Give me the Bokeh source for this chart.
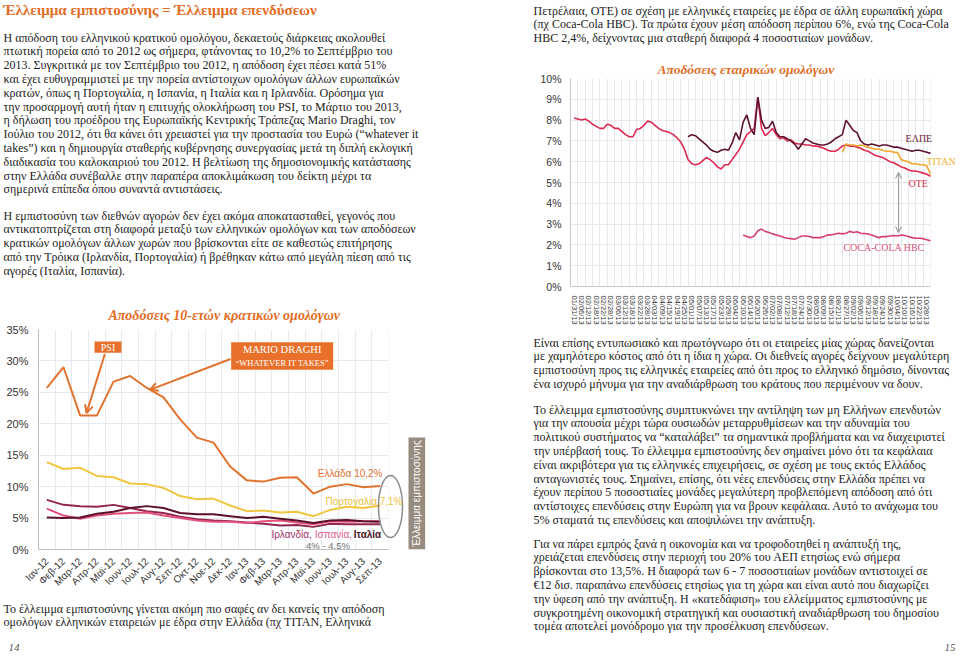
import math
from bokeh.plotting import figure
from bokeh.models import Range1d, FixedTicker, BoxAnnotation, Arrow, OpenHead
from bokeh.layouts import row, column
from bokeh.core.properties import value
from bokeh.embed import file_html
from bokeh.resources import INLINE

SERIF = "Liberation Serif"
SANS = "Liberation Sans"
ORANGE = "#E36C1F"
BODY = "#222222"
BODY_SIZE = "12px"
LINE = 13.8

# ---------------- chart 1 data : 10-year government bond yields (%) ----------------
months = ["Ιαν-12", "Φεβ-12", "Μαρ-12", "Απρ-12", "Μαϊ-12", "Ιουν-12", "Ιουλ-12",
          "Αυγ-12", "Σεπ-12", "Οκτ-12", "Νοε-12", "Δεκ-12", "Ιαν-13", "Φεβ-13",
          "Μαρ-13", "Απρ-13", "Μαϊ-13", "Ιουν-13", "Ιουλ-13", "Αυγ-13", "Σεπ-13"]
greece = [25.7, 29.0, 21.3, 21.3, 26.7, 27.6, 25.7, 24.2, 20.7, 17.8, 17.0, 13.2,
          11.0, 10.8, 11.4, 11.5, 8.9, 10.0, 10.4, 9.9, 10.1]
portugal = [13.9, 12.8, 13.0, 11.7, 11.5, 10.5, 10.4, 9.8, 8.5, 8.0, 8.1, 7.0,
            6.1, 6.2, 5.9, 6.0, 5.3, 6.3, 6.8, 6.6, 7.0]
ireland = [7.9, 7.1, 6.9, 6.8, 7.1, 6.6, 6.1, 5.8, 5.2, 4.8, 4.6, 4.5,
           4.3, 4.1, 3.8, 3.9, 3.6, 4.1, 4.0, 4.0, 4.0]
italy = [6.5, 5.4, 4.9, 5.4, 5.7, 5.8, 5.9, 5.4, 5.0, 4.6, 4.4, 4.4,
         4.2, 4.5, 4.6, 4.3, 4.0, 4.5, 4.4, 4.5, 4.5]
spain = [5.1, 5.0, 5.1, 5.7, 6.0, 6.6, 6.9, 6.6, 5.8, 5.6, 5.6, 5.3,
         5.0, 5.2, 4.9, 4.6, 4.2, 4.6, 4.7, 4.5, 4.4]
y1_ticks = [0, 5, 10, 15, 20, 25, 30, 35]

# ---------------- chart 2 data : corporate bond yields (%) ----------------
date_labels = ["01/31/13", "02/06/13", "02/12/13", "02/18/13", "02/22/13", "02/28/13",
               "03/06/13", "03/12/13", "03/18/13", "03/22/13", "03/28/13", "04/03/13",
               "04/09/13", "04/15/13", "04/19/13", "04/25/13", "05/01/13", "05/07/13",
               "05/13/13", "05/17/13", "05/23/13", "05/29/13", "06/04/13", "06/10/13",
               "06/14/13", "06/20/13", "06/26/13", "07/02/13", "07/08/13", "07/12/13",
               "07/18/13", "07/24/13", "07/30/13", "08/05/13", "08/09/13", "08/15/13",
               "08/21/13", "08/27/13", "09/02/13", "09/06/13", "09/12/13", "09/18/13",
               "09/24/13", "09/30/13", "10/04/13", "10/10/13", "10/16/13", "10/22/13",
               "10/28/13"]
DAYS_PER_LABEL = 4   # trading days between consecutive date labels
SAMPLE_STEP = 2      # values read every 2 trading days
ote = [8.10, 8.05, 8.00, 8.05, 7.95, 7.80, 7.70, 7.60, 7.60, 7.80,
       7.75, 7.60, 7.60, 7.45, 7.30, 7.20, 7.20, 7.55, 7.60, 7.75,
       7.95, 7.90, 7.75, 7.60, 7.50, 7.45, 7.40, 7.30, 7.15, 6.95,
       6.60, 6.10, 5.90, 5.85, 5.90, 6.05, 6.20, 6.10, 5.95, 5.75,
       5.65, 5.85, 5.85, 6.10, 6.35, 6.60, 6.95, 7.30, 7.45, 7.60,
       9.10, 7.60, 7.25, 7.40, 7.60, 7.30, 7.10, 7.15, 7.00, 7.05,
       6.90, 6.85, 6.85, 6.80, 6.80, 6.75, 6.75, 6.70, 6.65, 6.55,
       6.50, 6.50, 6.60, 6.75, 6.80, 6.75, 6.75, 6.70, 6.65, 6.55,
       6.50, 6.40, 6.30, 6.25, 6.20, 6.10, 6.00, 5.95, 5.85, 5.75,
       5.70, 5.60, 5.55, 5.55, 5.50, 5.45, 5.40, 5.30]
ote_first_day = 0
elpe = [7.20, 7.30, 7.25, 7.10, 6.95, 6.80, 6.60, 6.50, 6.45, 6.55,
        6.60, 6.55, 6.90, 7.40, 7.05, 7.90, 8.25, 7.60, 7.30, 9.10,
        8.00, 7.60, 7.65, 7.95, 7.40, 7.20, 7.20, 7.10, 7.00, 6.85,
        6.60, 6.85, 7.10, 7.00, 6.90, 6.85, 6.80, 6.80, 6.85, 6.95,
        7.10, 7.20, 7.30, 8.00, 7.75, 7.50, 7.40, 7.00, 6.85, 6.80,
        6.85, 6.80, 6.75, 6.80, 6.80, 6.75, 6.70, 6.70, 6.65, 6.60,
        6.55, 6.50, 6.55, 6.55, 6.50, 6.45, 6.40]
elpe_first_day = 62
titan = [6.45, 6.85, 6.80, 6.80, 6.75, 6.80, 6.75, 6.70, 6.65, 6.60,
         6.60, 6.55, 6.50, 6.50, 6.45, 6.45, 6.10, 6.05, 6.00, 5.90,
         5.90, 5.85, 5.85, 5.80, 5.40]
titan_first_day = 146
cchbc = [2.48, 2.40, 2.35, 2.43, 2.68, 2.76, 2.65, 2.60, 2.53, 2.48,
         2.43, 2.37, 2.32, 2.30, 2.27, 2.35, 2.43, 2.43, 2.40, 2.35,
         2.35, 2.35, 2.40, 2.48, 2.48, 2.52, 2.56, 2.53, 2.56, 2.65,
         2.60, 2.63, 2.56, 2.55, 2.52, 2.48, 2.40, 2.35, 2.40, 2.40,
         2.43, 2.45, 2.43, 2.48, 2.45, 2.40, 2.35, 2.32, 2.32, 2.30,
         2.25, 2.20]
cchbc_first_day = 92
y2_ticks = list(range(0, 11))

# ---------------- page texts ----------------
left_title = "Έλλειμμα εμπιστοσύνης = Έλλειμμα επενδύσεων"
left_p1 = [
    "Η απόδοση του ελληνικού κρατικού ομολόγου, δεκαετούς διάρκειας ακολουθεί",
    "πτωτική πορεία από το 2012 ως σήμερα, φτάνοντας το 10,2% το Σεπτέμβριο του",
    "2013. Συγκριτικά με τον Σεπτέμβριο του 2012, η απόδοση έχει πέσει κατά 51%",
    "και έχει ευθυγραμμιστεί με την πορεία αντίστοιχων ομολόγων άλλων ευρωπαϊκών",
    "κρατών, όπως η Πορτογαλία, η Ισπανία, η Ιταλία και η Ιρλανδία.  Ορόσημα για",
    "την προσαρμογή αυτή ήταν η επιτυχής ολοκλήρωση του PSI, το Μάρτιο του 2013,",
    "η δήλωση του προέδρου της Ευρωπαϊκής Κεντρικής Τράπεζας Mario Draghi, τον",
    "Ιούλιο του 2012, ότι θα κάνει ότι χρειαστεί για την προστασία του Ευρώ (“whatever it",
    "takes”) και η δημιουργία σταθερής κυβέρνησης συνεργασίας μετά τη διπλή εκλογική",
    "διαδικασία του καλοκαιριού του 2012. Η βελτίωση της δημοσιονομικής κατάστασης",
    "στην Ελλάδα συνέβαλλε στην παραπέρα αποκλιμάκωση του δείκτη μέχρι τα",
    "σημερινά επίπεδα όπου συναντά αντιστάσεις.",
]
left_p2 = [
    "Η εμπιστοσύνη των διεθνών αγορών δεν έχει ακόμα αποκατασταθεί, γεγονός που",
    "αντικατοπτρίζεται στη διαφορά μεταξύ των ελληνικών ομολόγων και των αποδόσεων",
    "κρατικών ομολόγων άλλων χωρών που βρίσκονται είτε σε καθεστώς επιτήρησης",
    "από την Τρόικα (Ιρλανδία, Πορτογαλία) ή βρέθηκαν κάτω από μεγάλη πίεση από τις",
    "αγορές (Ιταλία, Ισπανία).",
]
left_p3 = [
    "Το έλλειμμα εμπιστοσύνης γίνεται ακόμη πιο σαφές αν δει κανείς την απόδοση",
    "ομολόγων ελληνικών εταιρειών με έδρα στην Ελλάδα (πχ TITAN, Ελληνικά",
]
right_p0 = [
    "Πετρέλαια, ΟΤΕ) σε σχέση με ελληνικές εταιρείες με έδρα σε άλλη ευρωπαϊκή χώρα",
    "(πχ Coca-Cola HBC). Τα πρώτα έχουν μέση απόδοση περίπου 6%, ενώ της Coca-Cola",
    "HBC 2,4%, δείχνοντας μια σταθερή διαφορά 4 ποσοστιαίων μονάδων.",
]
right_p1 = [
    "Είναι επίσης εντυπωσιακό και πρωτόγνωρο ότι οι εταιρείες μίας χώρας δανείζονται",
    "με χαμηλότερο κόστος από ότι η ίδια η χώρα. Οι διεθνείς αγορές δείχνουν μεγαλύτερη",
    "εμπιστοσύνη προς τις ελληνικές εταιρείες από ότι προς το ελληνικό δημόσιο, δίνοντας",
    "ένα ισχυρό μήνυμα για την αναδιάρθρωση του κράτους που περιμένουν να δουν.",
]
right_p2 = [
    "Το έλλειμμα εμπιστοσύνης συμπτυκνώνει την αντίληψη των μη Ελλήνων επενδυτών",
    "για την απουσία μέχρι τώρα ουσιωδών μεταρρυθμίσεων και την αδυναμία του",
    "πολιτικού συστήματος να “καταλάβει” τα σημαντικά προβλήματα και να διαχειριστεί",
    "την υπέρβασή τους. Το έλλειμμα εμπιστοσύνης δεν σημαίνει μόνο ότι τα κεφάλαια",
    "είναι ακριβότερα για τις ελληνικές επιχειρήσεις, σε σχέση με τους εκτός Ελλάδος",
    "ανταγωνιστές τους. Σημαίνει, επίσης, ότι νέες επενδύσεις στην Ελλάδα πρέπει να",
    "έχουν περίπου 5 ποσοστιαίες μονάδες μεγαλύτερη προβλεπόμενη απόδοση από ότι",
    "αντίστοιχες επενδύσεις στην Ευρώπη για να βρουν κεφάλαια. Αυτό το ανάχωμα του",
    "5% σταματά τις επενδύσεις και αποψιλώνει την ανάπτυξη.",
]
right_p3 = [
    "Για να πάρει εμπρός ξανά η οικονομία και να τροφοδοτηθεί η ανάπτυξή της,",
    "χρειάζεται επενδύσεις στην περιοχή του 20% του ΑΕΠ ετησίως ενώ σήμερα",
    "βρίσκονται στο 13,5%. Η διαφορά των 6 - 7 ποσοστιαίων μονάδων αντιστοιχεί σε",
    "€12 δισ. παραπάνω επενδύσεις ετησίως για τη χώρα και είναι αυτό που διαχωρίζει",
    "την ύφεση από την ανάπτυξη. Η «κατεδάφιση» του ελλείμματος εμπιστοσύνης με",
    "συγκροτημένη οικονομική στρατηγική και ουσιαστική αναδιάρθρωση του δημοσίου",
    "τομέα αποτελεί μονόδρομο για την προσέλκυση επενδύσεων.",
]


def text_panel(w, h, x0, x1, y0, y1):
    f = figure(width=w, height=h, x_range=Range1d(x0, x1), y_range=Range1d(y1, y0),
               x_axis_location=None, y_axis_location=None, output_backend="svg",
               toolbar_location=None, min_border=0, frame_align=False)
    f.grid.visible = False
    f.outline_line_color = None
    f.background_fill_color = "white"
    f.border_fill_color = "white"
    return f


def add_lines(f, x, y0, lines, size=BODY_SIZE, color=BODY, style="normal",
              font=SERIF, align="left"):
    ys = [y0 + LINE * i for i in range(len(lines))]
    f.text(x=[x] * len(lines), y=ys, text=lines, text_font=value(font),
           text_font_size=size, text_color=color, text_baseline="middle",
           text_align=align, text_font_style=style)


LW = 480
RW = 478

# ---------------- left column ----------------
L1 = text_panel(LW, 292, 0, 480, 0, 292)
add_lines(L1, 3, 9, [left_title], size="15px", color=ORANGE, style="bold")
add_lines(L1, 3, 37, left_p1)
add_lines(L1, 3, 215, left_p2)

PX1 = 350 / 21.0   # px per month slot in chart 1
c1 = figure(width=LW, height=306, x_range=Range1d(-0.5, -0.5 + (LW - 38) / PX1),
            y_range=Range1d(0, 35),
            output_backend="svg", toolbar_location=None, frame_align=False,
            min_border_left=38, min_border_right=0, min_border_top=37, min_border_bottom=49)
c1.outline_line_color = None
c1.title.text = "Αποδόσεις 10-ετών κρατικών ομολόγων"
c1.title.text_font = SERIF
c1.title.text_font_style = "bold italic"
c1.title.text_font_size = "14px"
c1.title.text_color = ORANGE
c1.title.align = "left"
c1.title.offset = 70
c1.title.standoff = 14

idx = list(range(len(months)))
c1.xaxis.ticker = FixedTicker(ticks=idx)
c1.xaxis.major_label_overrides = {i: m for i, m in zip(idx, months)}
c1.xaxis.major_label_orientation = math.pi / 4
c1.xaxis.bounds = (-0.5, len(months) - 0.5)
c1.yaxis.ticker = FixedTicker(ticks=y1_ticks)
c1.yaxis.major_label_overrides = {v: f"{v}%" for v in y1_ticks}
for ax in (c1.xaxis, c1.yaxis):
    ax.axis_line_color = "#BFBFBF"
    ax.major_tick_line_color = None
    ax.minor_tick_line_color = None
    ax.major_label_text_font = SANS
    ax.major_label_text_color = "#333333"
    ax.major_label_standoff = 4
c1.xaxis.major_label_text_font_size = "10px"
c1.yaxis.major_label_text_font_size = "11px"
c1.xgrid.ticker = FixedTicker(ticks=[i - 0.5 for i in range(len(months) + 1)])
c1.xgrid.grid_line_color = "#E6E9EE"
c1.ygrid.grid_line_color = "#E6E9EE"
c1.add_layout(BoxAnnotation(left=len(months) - 0.5, fill_color="white", fill_alpha=1,
                            line_color=None, level="underlay"))

c1.line(idx, greece, line_color="#E2732F", line_width=2)
c1.line(idx, portugal, line_color="#F0C640", line_width=2)
c1.line(idx, ireland, line_color="#932650", line_width=2)
c1.line(idx, italy, line_color="#E4507A", line_width=2)
c1.line(idx, spain, line_color="#5A1028", line_width=2)

# annotations chart 1
c1.quad(left=[2.86], right=[4.48], bottom=[31.3], top=[33.1], fill_color="#E8702A", line_color=None)
c1.text(x=[3.67], y=[32.2], text=["PSI"], text_font=value(SERIF), text_font_size="10px",
        text_color="white", text_align="center", text_baseline="middle")
c1.quad(left=[11.06], right=[17.18], bottom=[28.6], top=[32.96], fill_color="#E8702A", line_color=None)
c1.text(x=[14.12, 14.12], y=[31.8, 29.7], text=["MARIO DRAGHI", "“WHATEVER IT TAKES”"],
        text_font=value(SERIF), text_font_size=["10.5px", "8.5px"],
        text_color="white", text_align="center", text_baseline="middle")
c1.add_layout(Arrow(end=OpenHead(size=8, line_color="#E2732F", line_width=2),
                    x_start=3.48, y_start=31.1, x_end=2.38, y_end=21.7,
                    line_color="#E2732F", line_width=2))
c1.add_layout(Arrow(end=OpenHead(size=8, line_color="#E2732F", line_width=2),
                    x_start=11.02, y_start=30.3, x_end=6.18, y_end=25.4,
                    line_color="#E2732F", line_width=2))
c1.ellipse(x=[20.62], y=[6.84], width=1.44, height=9.86, fill_color=None,
           line_color="#8C8C8C", line_width=1.5)
c1.quad(left=[21.7], right=[22.7], bottom=[0], top=[17.8], fill_color="#978A7E", line_color=None)
c1.text(x=[22.2], y=[8.9], text=["Έλλειμμα εμπιστοσύνης"], angle=math.pi / 2,
        text_font=value(SANS), text_font_size="10px", text_color="white",
        text_align="center", text_baseline="middle")
c1.text(x=[20.14], y=[12.1], text=["Ελλάδα 10,2%"], text_font=value(SANS),
        text_font_size="10px", text_color="#E07030", text_align="right", text_baseline="middle")
c1.text(x=[21.34], y=[7.63], text=["Πορτογαλία 7,1%"], text_font=value(SANS),
        text_font_size="10px", text_color="#E9C23A", text_align="right", text_baseline="middle")
c1.text(x=[13.48, 16.08, 18.41], y=[2.38, 2.38, 2.38], text=["Ιρλανδία,", "Ισπανία,", "Ιταλία"],
        text_font=value(SANS), text_font_size="10px",
        text_color=["#A3306A", "#E05A8A", "#4A1028"],
        text_font_style=["normal", "normal", "bold"],
        text_align="left", text_baseline="middle")
c1.text(x=[16.87], y=[0.64], text=["4% - 4,5%"], text_font=value(SANS),
        text_font_size="9.5px", text_color="#707070", text_align="center", text_baseline="middle")

L2 = text_panel(LW, 58, 0, 480, 598, 656)
add_lines(L2, 3, 608, left_p3)
L2.text(x=[8], y=[647], text=["14"], text_font=value(SERIF), text_font_size="11px",
        text_color="#555555", text_font_style="italic", text_baseline="middle")

# ---------------- right column ----------------
R1 = text_panel(RW, 52, 480, 958, 0, 52)
add_lines(R1, 533, 10, right_p0)

PXDAY = 360 / 196.0
n_lab = len(date_labels)
c2 = figure(width=RW, height=278, x_range=Range1d(-2, -2 + (RW - 90) / PXDAY),
            y_range=Range1d(0, 10), output_backend="svg", toolbar_location=None,
            frame_align=False,
            min_border_left=90, min_border_right=0, min_border_top=26, min_border_bottom=44)
c2.outline_line_color = None
c2.title.text = "Αποδόσεις εταιρικών ομολόγων"
c2.title.text_font = SERIF
c2.title.text_font_style = "bold italic"
c2.title.text_font_size = "13.5px"
c2.title.text_color = ORANGE
c2.title.align = "left"
c2.title.offset = 87
c2.title.standoff = 3

lab_days = [DAYS_PER_LABEL * i for i in range(n_lab)]
c2.xaxis.ticker = FixedTicker(ticks=lab_days)
c2.xaxis.major_label_overrides = {d: s for d, s in zip(lab_days, date_labels)}
c2.xaxis.major_label_orientation = "vertical"
c2.xaxis.bounds = (-2, DAYS_PER_LABEL * n_lab - 2)
c2.yaxis.ticker = FixedTicker(ticks=y2_ticks)
c2.yaxis.major_label_overrides = {v: f"{v}%" for v in y2_ticks}
for ax in (c2.xaxis, c2.yaxis):
    ax.axis_line_color = "#C8C8C8"
    ax.major_tick_line_color = None
    ax.minor_tick_line_color = None
    ax.major_label_text_font = SANS
    ax.major_label_text_color = "#333333"
    ax.major_label_standoff = 3
c2.xaxis.major_label_text_font_size = "7.5px"
c2.yaxis.major_label_text_font_size = "10.5px"
c2.xgrid.ticker = FixedTicker(ticks=[DAYS_PER_LABEL * i - 2 for i in range(n_lab + 1)])
c2.xgrid.grid_line_color = "#E8E8E8"
c2.ygrid.grid_line_color = "#E8E8E8"
c2.add_layout(BoxAnnotation(left=DAYS_PER_LABEL * n_lab - 2, fill_color="white", fill_alpha=1,
                            line_color=None, level="underlay"))


def days(first, vals):
    return [first + SAMPLE_STEP * i for i in range(len(vals))]


c2.line(days(ote_first_day, ote), ote, line_color="#DE2A50", line_width=1.6)
c2.line(days(elpe_first_day, elpe), elpe, line_color="#5E1232", line_width=1.6)
c2.line(days(titan_first_day, titan), titan, line_color="#F2A72E", line_width=1.6)
c2.line(days(cchbc_first_day, cchbc), cchbc, line_color="#D93F6E", line_width=1.6)

c2.text(x=[180.4, 191.8, 182.0, 146.6], y=[7.12, 6.0, 4.95, 1.88],
        text=["ΕΛΠΕ", "TITAN", "OTE", "COCA-COLA HBC"],
        text_font=value(SERIF), text_font_size="10px",
        text_color=["#6B1E3A", "#F2B134", "#D9304F", "#D9547A"],
        text_align="left", text_baseline="middle")
c2.add_layout(Arrow(start=OpenHead(size=6, line_color="#A0A0A0", line_width=1.2),
                    end=OpenHead(size=6, line_color="#A0A0A0", line_width=1.2),
                    x_start=176.6, y_start=5.48, x_end=176.6, y_end=2.6,
                    line_color="#A0A0A0", line_width=1.2))

R2 = text_panel(RW, 326, 480, 958, 330, 656)
add_lines(R2, 533, 342, right_p1)
add_lines(R2, 533, 409, right_p2)
add_lines(R2, 533, 543, right_p3)
R2.text(x=[955], y=[647], text=["15"], text_font=value(SERIF), text_font_size="11px",
        text_color="#555555", text_font_style="italic", text_align="right", text_baseline="middle")

page = row(column(L1, c1, L2, spacing=0), column(R1, c2, R2, spacing=0), spacing=0)
open("out.html", "w").write(file_html(page, INLINE))
